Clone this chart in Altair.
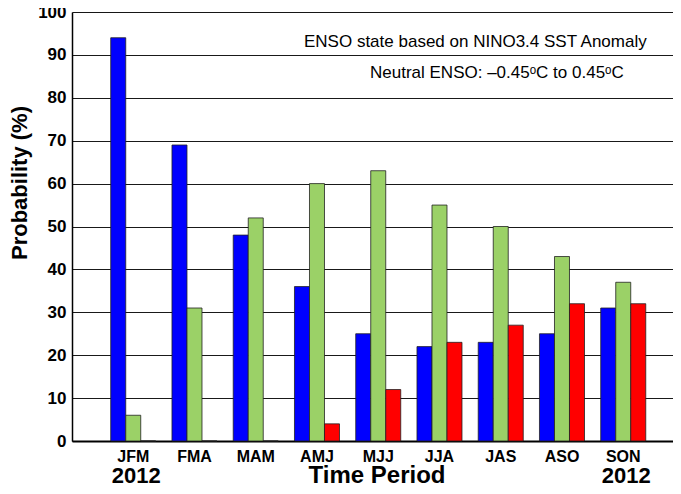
import altair as alt
import pandas as pd

periods = ["JFM", "FMA", "MAM", "AMJ", "MJJ", "JJA", "JAS", "ASO", "SON"]
series_names = ["La Nina", "Neutral", "El Nino"]
series_colors = ["#0000FF", "#9BD167", "#FF0000"]
la_nina = [94, 69, 48, 36, 25, 22, 23, 25, 31]
neutral = [6, 31, 52, 60, 63, 55, 50, 43, 37]
el_nino = [0, 0, 0, 4, 12, 23, 27, 32, 32]
y_ticks = list(range(0, 101, 10))

rows = []
for i, p in enumerate(periods):
    for s, vals in zip(series_names, [la_nina, neutral, el_nino]):
        rows.append({"period": p, "series": s, "value": vals[i]})
df = pd.DataFrame(rows)

W, H = 601, 429
FONT = "Liberation Sans"

xscale = alt.Scale(domain=periods, paddingInner=0.265, paddingOuter=0.5386, align=0.587)

bars = alt.Chart(df).mark_bar(stroke="#222222", strokeWidth=0.8).encode(
    x=alt.X("period:N", scale=xscale, sort=periods,
            axis=alt.Axis(title=None, labelAngle=0, labelFont=FONT, labelFontSize=16,
                          labelFontWeight="bold", labelColor="black", ticks=False,
                          labelPadding=7, domainColor="black", domainWidth=2.2, grid=False)),
    xOffset=alt.XOffset("series:N", sort=series_names, scale=alt.Scale(paddingInner=0, paddingOuter=0)),
    y=alt.Y("value:Q", scale=alt.Scale(domain=[0, 100], nice=False),
            axis=alt.Axis(title=None, values=y_ticks, labelFont=FONT, labelFontSize=17,
                          labelFontWeight="bold", labelColor="black", ticks=False,
                          labelPadding=6, domainColor="black", domainWidth=1.5,
                          grid=True, gridColor="black", gridWidth=1, gridOpacity=0.9)),
    color=alt.Color("series:N", scale=alt.Scale(domain=series_names, range=series_colors), legend=None),
)

year_df = pd.DataFrame({"period": ["JFM", "SON"], "label": ["2012", "2012"]})
years = alt.Chart(year_df).mark_text(font=FONT, fontSize=22, fontWeight="bold", color="black",
                                     baseline="alphabetic", dx=3).encode(
    x=alt.X("period:N", scale=xscale, sort=periods),
    y=alt.value(471),
    text="label:N",
)

ann_df = pd.DataFrame({"t": ["Time Period"]})
xtitle = alt.Chart(ann_df).mark_text(font=FONT, fontSize=24, fontWeight="bold", color="black",
                                     baseline="alphabetic").encode(
    x=alt.value(305), y=alt.value(471), text="t:N")

ytitle = alt.Chart(pd.DataFrame({"t": ["Probability (%)"]})).mark_text(
    font=FONT, fontSize=22, fontWeight="bold", color="black", angle=270, baseline="middle").encode(
    x=alt.value(-52), y=alt.value(171), text="t:N")

note1 = alt.Chart(pd.DataFrame({"t": ["ENSO state based on NINO3.4 SST Anomaly"]})).mark_text(
    font=FONT, fontSize=17, color="black", align="left", baseline="alphabetic").encode(
    x=alt.value(232), y=alt.value(35), text="t:N")

note2 = alt.Chart(pd.DataFrame({"t": ["Neutral ENSO: \u20130.45\u1d52C to 0.45\u1d52C"]})).mark_text(
    font=FONT, fontSize=17, color="black", align="left", baseline="alphabetic").encode(
    x=alt.value(298), y=alt.value(66), text="t:N")

chart = alt.layer(bars, years, xtitle, ytitle, note1, note2).properties(
    width=W, height=H,
    autosize=alt.AutoSizeParams(type="none"),
    padding={"left": 64, "top": 4, "right": 0, "bottom": 45},
).configure_view(stroke=None).configure(background="white")

chart.save("out.html", embed_options={"renderer": "svg", "actions": False})
